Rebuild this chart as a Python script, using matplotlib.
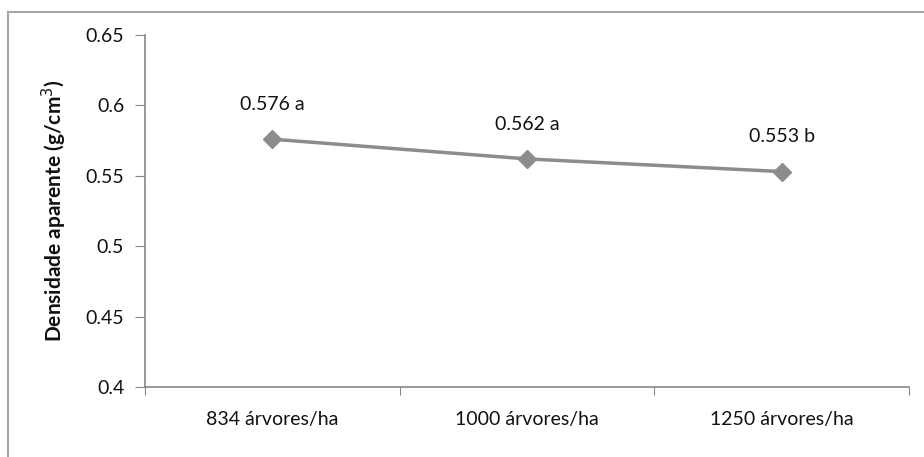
import matplotlib
matplotlib.use("Agg")
import matplotlib.pyplot as plt
from matplotlib.patches import Rectangle

plt.rcParams['font.family'] = ['Lato', 'DejaVu Sans']

categorias = ["834 árvores/ha", "1000 árvores/ha", "1250 árvores/ha"]
densidade = [0.576, 0.562, 0.553]
letras = ["a", "a", "b"]
yticks = [0.4, 0.45, 0.5, 0.55, 0.6, 0.65]
yticklabels = ["0.4", "0.45", "0.5", "0.55", "0.6", "0.65"]

eixo_cor = "#868686"
linha_cor = "#8c8c8c"
texto_cor = "#111111"

fig = plt.figure(figsize=(9.24, 4.57), dpi=100)
# moldura externa do grafico
fig.patches.append(Rectangle((8 / 924, -0.1), 1.2, 1.1 - 12 / 457,
                             transform=fig.transFigure, fill=False,
                             edgecolor="#a6a6a6", linewidth=1.5))

ax = fig.add_axes([145 / 924, 70 / 457, 764 / 924, 352 / 457])

x = [i + 0.5 for i in range(len(categorias))]
ax.plot(x, densidade, color=linha_cor, linewidth=2.5, marker="D",
        markersize=9, markerfacecolor=linha_cor, markeredgecolor=linha_cor)

for xi, v, l in zip(x, densidade, letras):
    ax.annotate("{:.3f} {}".format(v, l), (xi, v), xytext=(0, 25),
                textcoords="offset points", ha="center", va="center",
                fontsize=14, color=texto_cor)

ax.set_xlim(0, len(categorias))
ax.set_ylim(0.4, 0.65)
ax.set_yticks(yticks)
ax.set_yticklabels(yticklabels)
ax.set_xticks(range(len(categorias) + 1))
ax.set_xticklabels([])
ax.set_xticks(x, minor=True)
ax.set_xticklabels(categorias, minor=True)
ax.tick_params(axis="x", which="minor", length=0, pad=17, labelsize=14,
               labelcolor=texto_cor)
ax.tick_params(axis="x", which="major", length=6, color=eixo_cor, direction="out")
ax.tick_params(axis="y", length=7, color=eixo_cor, pad=8, labelsize=14,
               labelcolor=texto_cor)

for s in ["top", "right"]:
    ax.spines[s].set_visible(False)
for s in ["left", "bottom"]:
    ax.spines[s].set_color(eixo_cor)
    ax.spines[s].set_linewidth(1.2)

ax.set_ylabel("Densidade aparente (g/cm$^3$)", fontsize=15, fontweight="bold",
              labelpad=12, color=texto_cor)

fig.savefig("out.png", dpi=100)
